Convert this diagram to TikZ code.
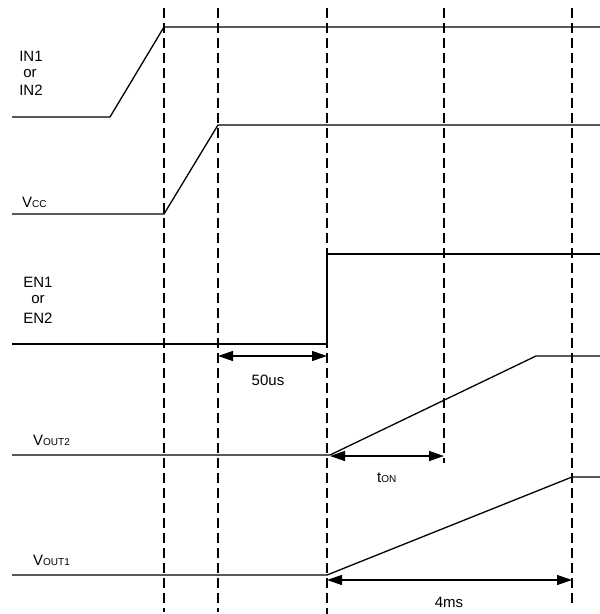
\documentclass[tikz,border=0pt]{standalone}
\usepackage{fontspec}
\setmainfont{Liberation Sans}
\usetikzlibrary{arrows.meta}
\newcommand{\lbsub}[1]{{\fontsize{10}{10}\selectfont #1}}
\begin{document}
\begin{tikzpicture}[x=1pt,y=-1pt,
  sig/.style={line width=1.3pt, line join=miter},
  guide/.style={line width=2pt, dash pattern=on 10pt off 5pt},
  dim/.style={line width=1.3pt, {Triangle[length=15pt,width=10pt]}-{Triangle[length=15pt,width=10pt]}},
  lbl/.style={inner sep=0pt, font=\fontsize{15}{18}\selectfont}]
\useasboundingbox (0,0) rectangle (600,614);
% guide lines
\coordinate (g1t) at (164,8);  \coordinate (g1b) at (164,612);
\coordinate (g2t) at (218,8);  \coordinate (g2b) at (218,612);
\coordinate (g3t) at (327,8);  \coordinate (g3b) at (327,614);
\coordinate (g4t) at (444,8);  \coordinate (g4b) at (444,463);
\coordinate (g5t) at (572,8);  \coordinate (g5b) at (572,606);
\foreach \g in {1,...,5} {\draw[guide] (g\g t) -- (g\g b);}
% IN1 / IN2
\coordinate (ia) at (12,117); \coordinate (ib) at (110,117);
\coordinate (ic) at (164,27); \coordinate (id) at (600,27);
\draw[sig] (ia) -- (ib) -- (ic) -- (id);
% VCC
\coordinate (va) at (12,214); \coordinate (vb) at (164,214);
\coordinate (vc) at (218,125); \coordinate (vd) at (600,125);
\draw[sig] (va) -- (vb) -- (vc) -- (vd);
% EN
\coordinate (ea) at (12,344); \coordinate (eb) at (327,344);
\coordinate (ec) at (327,254); \coordinate (ed) at (600,254);
\draw[sig] (ea) -- (eb) -- (ec) -- (ed);
% VOUT2
\coordinate (oa) at (12,455); \coordinate (ob) at (330,455);
\coordinate (oc) at (536,356); \coordinate (od) at (600,356);
\draw[sig] (oa) -- (ob) -- (oc) -- (od);
% VOUT1
\coordinate (pa) at (12,575); \coordinate (pb) at (327,575);
\coordinate (pc) at (572,477); \coordinate (pd) at (600,477);
\draw[sig] (pa) -- (pb) -- (pc) -- (pd);
% dimension arrows
\coordinate (m1a) at (218,356); \coordinate (m1b) at (327,356);
\draw[dim] (m1a) -- (m1b);
\coordinate (m2a) at (330,456); \coordinate (m2b) at (444,456);
\draw[dim] (m2a) -- (m2b);
\coordinate (m3a) at (327,580); \coordinate (m3b) at (572,580);
\draw[dim] (m3a) -- (m3b);
% labels
\node[lbl, anchor=base] (tin1) at (31,61) {IN1};
\node[lbl, anchor=base] (tin2) at (30,77) {or};
\node[lbl, anchor=base] (tin3) at (31,95) {IN2};
\node[lbl, anchor=base west] (tvcc) at (22,207) {V\lbsub{CC}};
\node[lbl, anchor=base] (ten1) at (38,287) {EN1};
\node[lbl, anchor=base] (ten2) at (38,303) {or};
\node[lbl, anchor=base] (ten3) at (38,323) {EN2};
\node[lbl, anchor=base west] (tvo2) at (33,445) {V\lbsub{OUT2}};
\node[lbl, anchor=base west] (tvo1) at (33,565) {V\lbsub{OUT1}};
\node[lbl, anchor=base] (t50) at (268,385) {50us};
\node[lbl, anchor=base west] (tton) at (377,482) {t\lbsub{ON}};
\node[lbl, anchor=base] (t4ms) at (449,607) {4ms};
\end{tikzpicture}
\end{document}
